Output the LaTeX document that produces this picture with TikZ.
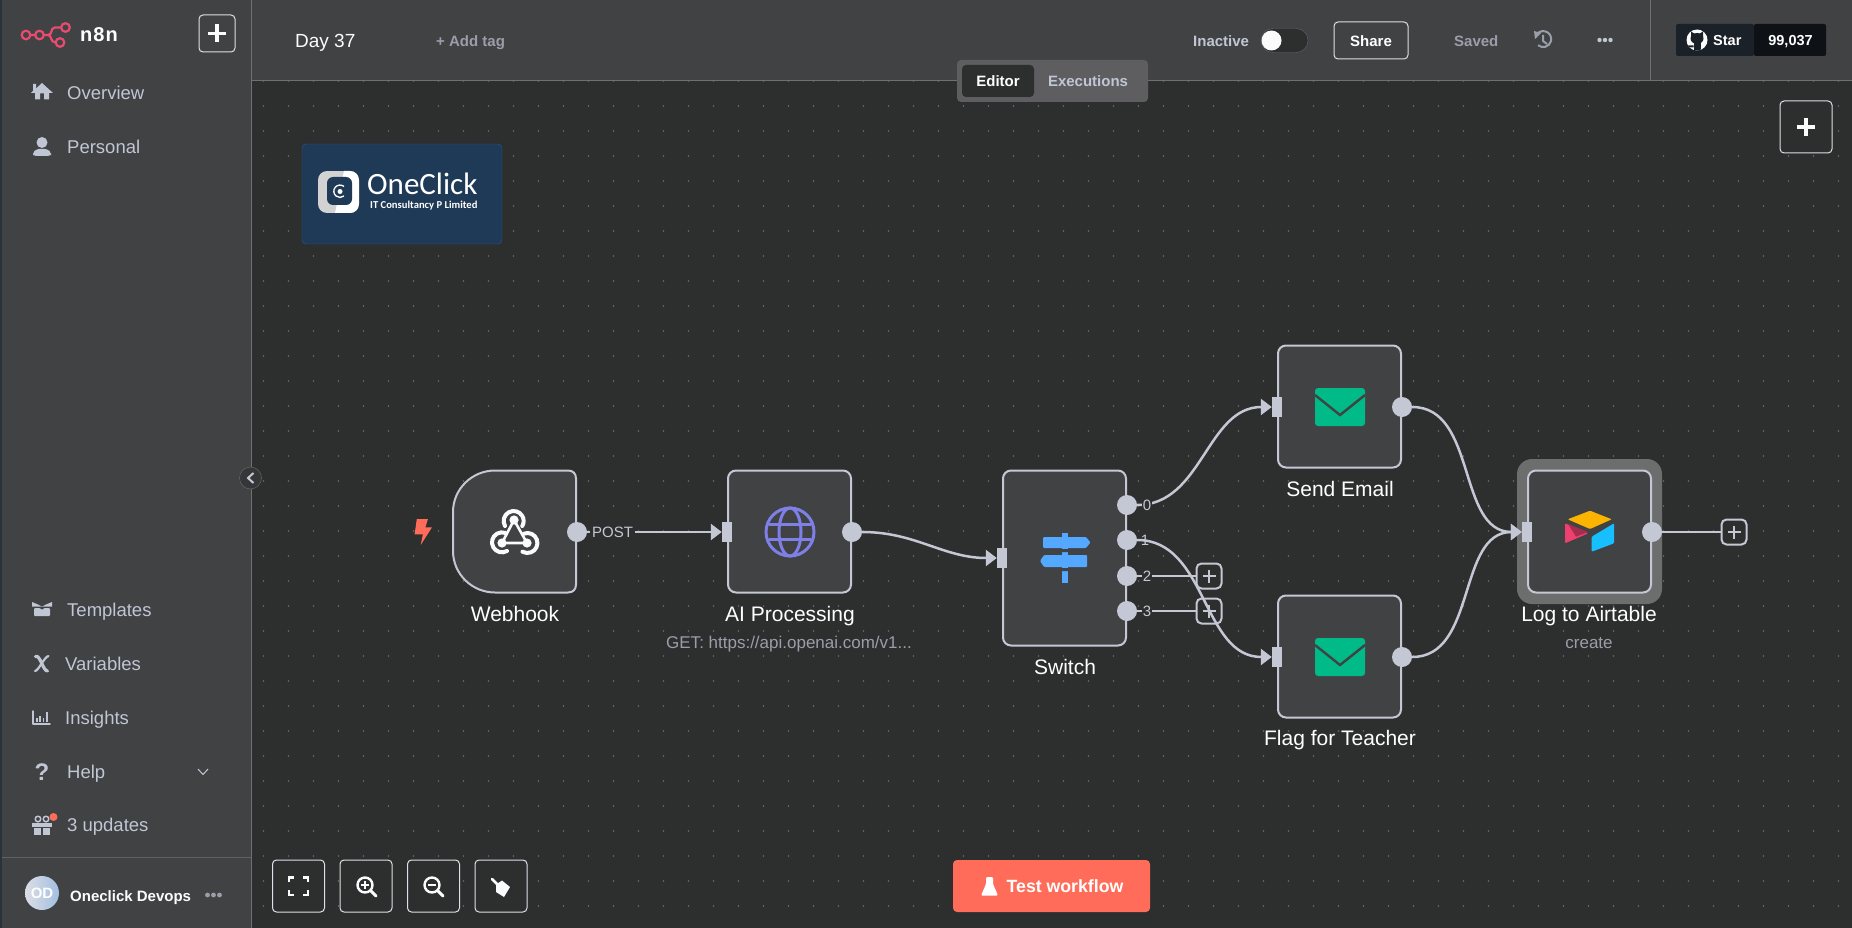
\documentclass[tikz,border=0pt]{standalone}
\usepackage{fontspec}
\setmainfont{Liberation Sans}
\newfontfamily\logofont{Carlito}
\usetikzlibrary{arrows.meta}
\newcommand{\fsz}[1]{\fontsize{#1}{#1}\selectfont}

\begin{document}
\begin{tikzpicture}[x=1pt,y=-1pt,
  flownode/.style={rectangle,draw=wire,fill=panel,line width=2,rounded corners=8,minimum width=123,minimum height=122,inner sep=0},
  outdot/.style={circle,fill=wire,minimum size=20,inner sep=0},
  inport/.style={rectangle,fill=wire,minimum width=10,minimum height=20,inner sep=0},
  plusbox/.style={rectangle,draw=wire,fill=canvas,line width=2,rounded corners=5,minimum size=25,inner sep=0},
  toolbtn/.style={rectangle,draw=btnline,fill=canvas,line width=1,rounded corners=4,inner sep=0},
  wireline/.style={draw=wire,line width=2.5,-{Triangle[length=11,width=16]}},
  stubline/.style={draw=wire,line width=2.5},
  navtext/.style={anchor=base west,inner sep=0,text=navclr,font=\fsz{18.5}},
  headtext/.style={anchor=base west,inner sep=0,font=\bfseries\fsz{15}},
  nodename/.style={anchor=base,inner sep=0,text=white,font=\fsz{21}},
  nodesub/.style={anchor=base,inner sep=0,text=subclr,font=\fsz{17}},
  porttext/.style={anchor=base,inner sep=0,text=wire,font=\fsz{15}},
  iconfill/.style={fill=navclr,draw=none},
  iconline/.style={draw=navclr,line width=2,line cap=round,line join=round}]
\definecolor{canvas}{HTML}{2D2E2E}
\definecolor{panel}{HTML}{414244}
\definecolor{wire}{HTML}{C4C8D4}
\definecolor{btnline}{HTML}{DDE0E8}
\definecolor{navclr}{HTML}{C0C6D4}
\definecolor{subclr}{HTML}{9A9EAA}
\definecolor{coral}{HTML}{FF6D5A}
\definecolor{mailgreen}{HTML}{00BB88}
\definecolor{signblue}{HTML}{55A8FF}
\definecolor{globeclr}{HTML}{7F7FE8}
\definecolor{navy}{HTML}{1F3A56}
\definecolor{pinklogo}{HTML}{EA4B71}
\definecolor{airyellow}{HTML}{FCB400}
\definecolor{airblue}{HTML}{18BFFF}
\definecolor{airred}{HTML}{EF4070}
\definecolor{hubdark}{HTML}{1B2129}
\definecolor{hubblack}{HTML}{0E1116}
\useasboundingbox (0,0) rectangle (1852,928);

% backgrounds
\fill[canvas] (0,0) rectangle (1852,928);
\foreach \gx in {0,...,63}
  \foreach \gy in {0,...,33}
    {\fill[gray!75!canvas] (263.5+25*\gx,81+25*\gy) circle (0.9);}
\fill[panel] (251,0) rectangle (1852,80);
\draw[gray!75!panel] (251,80) -- (1852,80);
\draw[gray!75!panel] (1650,0) -- (1650,80);
\fill[panel] (0,0) rectangle (251,928);
\fill[navy!40!canvas] (0,0) rectangle (2,928);
\draw[gray!75!panel] (251.5,0) -- (251.5,928);
\draw[gray!50!panel] (2,857) -- (251,857);

% sidebar top
\foreach \lx/\ly in {26/35,39.5/35,65.5/27.5,60/42.5}
  {\draw[pinklogo,line width=2.2] (\lx,\ly) circle (4.3);}
\draw[pinklogo,line width=2.2] (30.3,35) -- (35.2,35) (43.8,35) -- (48,35) .. controls (53,35) and (50,27.5) .. (55,27.5) -- (61.2,27.5)
  (48,35) .. controls (52,35) and (50,42.5) .. (55.7,42.5);
\node[anchor=base west,inner sep=0,text=white,font=\bfseries\fsz{20}] (logoname) at (80,42) {n\kern1pt 8\kern1pt n};
\node[toolbtn,minimum width=36,minimum height=37,fill=panel] (newbtn) at (217,33.5) {};

% sidebar items
\foreach \itm/\txt/\ix/\iy in {over/Overview/67/99.7,pers/Personal/67/153.2,temp/Templates/67/616.5,vars/Variables/65/670.3,
    insi/Insights/65/724,help/Help/67/778,upd/3 updates/67/831.5}
  {\node[navtext] (\itm) at (\ix,\iy) {\txt};}
\fill[iconfill] (42,83) -- (36,88.5) -- (36,84) -- (33,84) -- (33,91) -- (31,93) -- (35,93) -- (35,99.5) -- (40,99.5) -- (40,93.5) -- (44,93.5) -- (44,99.5) -- (49,99.5) -- (49,93) -- (53,93) -- cycle;
\fill[iconfill] (42,142.5) circle (5.5);
\fill[iconfill,rounded corners=3] (33,156) -- (33,153) -- (36,149) -- (48,149) -- (51,153) -- (51,156) -- cycle;
\fill[iconfill] (32,602) -- (38,604.5) -- (42,606.5) -- (46,604.5) -- (52,602) -- (52,606.5) -- (32,606.5) -- cycle;
\fill[iconfill,rounded corners=1] (34,608) -- (40,608) -- (42,610) -- (44,608) -- (50,608) -- (50,616) -- (34,616) -- cycle;
\draw[iconline,line width=3.2] (35.5,656.5) .. controls (40,654) and (43,671) .. (47.5,671);
\draw[iconline,line width=2.2] (35,671) .. controls (38.5,671) and (44,657) .. (48.5,656);
\draw[iconline,line width=1.5] (33,711) -- (33,724) -- (50,724);
\foreach \bx/\bt in {37/718,40/716,43.5/718,47/712}
  {\draw[iconline,line width=1.8,line cap=butt] (\bx,721.5) -- (\bx,\bt);}
\node[anchor=base,inner sep=0,text=navclr,font=\bfseries\fsz{24}] (helpmark) at (42,780) {?};
\draw[navclr,line width=1] (198,769) -- (203,774.5) -- (208,769);
\fill[iconfill] (32,823) rectangle (52,827);
\fill[iconfill] (34,828) rectangle (41,835);
\fill[iconfill] (43,828) rectangle (50,835);
\draw[iconline,line width=1.5] (38,819) circle (2.8) (46,819) circle (2.8);
\fill[coral] (53.5,817) circle (4);
\shade[left color=wire!60!white,right color=wire!70!signblue] (42,893) circle (17);
\node[anchor=base,inner sep=0,text=white,font=\bfseries\fsz{15}] (avatar) at (42,898) {OD};
\node[anchor=base west,inner sep=0,text=white!95!navclr,font=\bfseries\fsz{15}] (username) at (70,901) {Oneclick Devops};
\foreach \dx in {207.5,213.5,219.5}
  {\fill[subclr] (\dx,895) circle (2.4);}
\node[circle,draw=gray!70!panel,fill=canvas!60!panel,minimum size=22,inner sep=0] (collapse) at (250.5,478) {};
\draw[wire,line width=2] (253.5,473) -- (248,478) -- (253.5,483);

% header
\node[anchor=base west,inner sep=0,text=white!95!navclr,font=\fsz{19}] (title) at (295,47.7) {Day 37};
\node[headtext,text=subclr] (addtag) at (436,46.7) {+ Add tag};
\node[headtext,text=navclr] (inactive) at (1193,46.7) {Inactive};
\node[rectangle,draw=gray!60!panel,fill=canvas,rounded corners=12,minimum width=47,minimum height=24,inner sep=0] (toggle) at (1284.5,40.5) {};
\fill[white!93!navclr] (1271.5,40.5) circle (10);
\node[toolbtn,fill=panel,minimum width=74,minimum height=37] (sharebtn) at (1371,40.5) {};
\node[anchor=base,inner sep=0,text=white,font=\bfseries\fsz{15}] (share) at (1371,46.7) {Share};
\node[headtext,text=subclr] (saved) at (1454,46.7) {Saved};
\draw[subclr,line width=2] (1535.5,37) arc[start angle=195,end angle=490,radius=8];
\draw[subclr,line width=2] (1543,35) -- (1543,41) -- (1547,44);
\fill[subclr] (1534,31) -- (1541,33) -- (1535,39) -- cycle;
\foreach \dx in {1599.5,1605,1610.5}
  {\fill[navclr] (\dx,40) circle (2.2);}
\node[rectangle,fill=hubdark,rounded corners=2,minimum width=78,minimum height=32,inner sep=0] (starbox) at (1715,40) {};
\node[rectangle,fill=hubblack,rounded corners=2,minimum width=72,minimum height=32,inner sep=0] (countbox) at (1790,40) {};
\fill[white] (1697,40) circle (10.5);
\begin{scope}
  \clip (1697,40) circle (10.5);
  \fill[hubdark] (1697,38.5) ellipse (6.5 and 5.5);
  \fill[hubdark] (1691,31.5) -- (1695,34) -- (1691,37) -- cycle;
  \fill[hubdark] (1703,31.5) -- (1699,34) -- (1703,37) -- cycle;
  \fill[hubdark] (1693.5,42) rectangle (1700.5,52);
  \fill[hubdark] (1686,45.5) -- (1693.5,45.5) -- (1693.5,47.5) -- (1688,47.5) -- cycle;
\end{scope}
\node[anchor=base west,inner sep=0,text=white,font=\bfseries\fsz{14.5}] (star) at (1713,45.5) {Star};
\node[anchor=base,inner sep=0,text=white,font=\bfseries\fsz{14.5}] (stars) at (1790.5,45.5) {99,037};

% tabs
\node[rectangle,fill=panel!85!white,rounded corners=4,minimum width=191,minimum height=42,inner sep=0] (tabs) at (1052.5,81) {};
\node[rectangle,fill=canvas,rounded corners=4,minimum width=72,minimum height=32,inner sep=0] (editortab) at (998,81) {};
\node[anchor=base,inner sep=0,text=white,font=\bfseries\fsz{15}] (editor) at (998,86.5) {Editor};
\node[anchor=base,inner sep=0,text=navclr,font=\bfseries\fsz{15}] (execs) at (1088,86.5) {Executions};

% canvas buttons
\node[toolbtn,minimum width=52,minimum height=52] (addbtn) at (1806,127) {};
\foreach \px/\py in {217/33.5,1806/127}
  {\draw[white!95!wire,line width=3.2] (\px-9,\py) -- (\px+9,\py) (\px,\py-9) -- (\px,\py+9);}
\foreach \bname/\bx in {fitbtn/298.5,inbtn/366,outbtn/433.5,tidybtn/501}
  {\node[toolbtn,minimum width=52,minimum height=52] (\bname) at (\bx,886) {};}
\begin{scope}[white!92!wire,line width=2.4]
  \draw (289,882) -- (289,877.5) -- (294,877.5) (303,877.5) -- (308,877.5) -- (308,882)
        (289,890) -- (289,895) -- (294,895) (303,895) -- (308,895) -- (308,890);
  \foreach \mx in {365,432}
    {\draw (\mx,885) circle (7.5);
     \draw[line cap=round,line width=3] (\mx+6,891) -- (\mx+11,896);
     \draw[line width=2] (\mx-4,885) -- (\mx+4,885);}
  \draw[line width=2] (365,881) -- (365,889);
  \draw[line cap=round,line width=2.6] (492,879) -- (498,885);
\end{scope}
\fill[white!92!wire] (496,884.5) -- (502,880.5) -- (510,887) -- (504,897) -- (496,892) -- cycle;

\node[rectangle,fill=coral,rounded corners=4,minimum width=197,minimum height=52,inner sep=0] (testbtn) at (1051.5,886) {};
\node[anchor=base,inner sep=0,text=white,font=\bfseries\fsz{17.7}] (testlab) at (1065,892) {Test workflow};
\fill[white,rounded corners=1.2] (986,877) -- (993,877) -- (993,884) -- (998,895.5) -- (981,895.5) -- (986,884) -- cycle;

% company logo
\node[rectangle,draw=navy!70!signblue,fill=navy,rounded corners=4,minimum width=200,minimum height=100,inner sep=0] (logobox) at (402,194) {};
\begin{scope}
  \clip[rounded corners=9] (318,171) rectangle (359,213);
  \fill[gray!35!white] (318,171) rectangle (359,213);
  \fill[white] (344,171) -- (359,171) -- (359,213) -- (335,213) -- cycle;
\end{scope}
\fill[navy,rounded corners=6] (327,177) rectangle (352,205);
\draw[white,line width=1.3] (344,186.5) arc[start angle=-50,end angle=-310,radius=6.2];
\fill[white] (340,191.5) circle (2.5);
\node[anchor=base west,inner sep=0,text=white,font=\logofont\fsz{31}] (oneclick) at (367,195) {OneClick};
\node[anchor=base west,inner sep=0,text=white,font=\logofont\bfseries\fsz{10.6}] (oneclicksub) at (370,208) {IT Consultancy P Limited};

% workflow nodes
\node[inner sep=0,minimum width=123,minimum height=122] (webhook) at (514.5,531.5) {};
\draw[wire,fill=panel,line width=2] (569,470.5) -- (495,470.5) .. controls (472,470.5) and (453,489) .. (453,512) -- (453,551)
  .. controls (453,574) and (472,592.5) .. (495,592.5) -- (568,592.5) .. controls (573,592.5) and (576,589.5) .. (576,584.5)
  -- (576,478.5) .. controls (576,473.5) and (573,470.5) .. (568,470.5) -- cycle;
\node[flownode] (aireq) at (789.5,531.5) {};
\node[flownode,minimum height=175] (switch) at (1064.5,558) {};
\node[flownode] (sendmail) at (1339.5,406.5) {};
\node[flownode] (flagmail) at (1339.5,656.5) {};
\node[rectangle,fill=gray!45!canvas!85!white,rounded corners=15,minimum width=145,minimum height=145,inner sep=0] (selected) at (1589.5,531.5) {};
\node[flownode] (airtable) at (1589.5,531.5) {};

% ports
\foreach \pname/\px/\py in {hookout/577/532,aiout/852/532,swout0/1127/505,swout1/1127/540,swout2/1127/576,swout3/1127/611,
    sendout/1402/407,flagout/1402/657,airout/1652/532}
  {\node[outdot] (\pname) at (\px,\py) {};}
\foreach \pname/\px/\py in {aiin/727/532,swin/1002/558,sendin/1277/407,flagin/1277/657,airin/1527/532}
  {\node[inport] (\pname) at (\px,\py) {};}
\foreach \pname/\px/\py in {plus2/1209/576,plus3/1209/611,plusend/1734/532}
  {\node[plusbox] (\pname) at (\px,\py) {};}
\foreach \px/\py in {1209/576,1209/611,1734/532}
  {\draw[wire,line width=2.4] (\px-6.5,\py) -- (\px+6.5,\py) (\px,\py-6.5) -- (\px,\py+6.5);}

% connectors
\draw[wireline] (hookout) -- (aiin);
\draw[wireline] (aiout) to[out=0,in=180] (swin);
\draw[wireline] (swout0) to[out=0,in=180] (sendin);
\draw[stubline] (swout2) -- (plus2);
\draw[stubline] (swout3) -- (plus3);
\draw[wireline] (swout1) to[out=0,in=180] (flagin);
\draw[wireline] (sendout) to[out=0,in=180] (airin);
\draw[wireline] (flagout) to[out=0,in=180] (airin);
\draw[stubline] (airout) -- (plusend);

% connector labels
\node[porttext,fill=canvas,inner xsep=2,inner ysep=1] (postlab) at (612.5,537) {POST};
\node[porttext,fill=canvas,inner xsep=1] (lab0) at (1147,510.5) {0};
\node[porttext] (lab1) at (1145,545.5) {1};
\node[porttext,fill=canvas,inner xsep=1] (lab2) at (1147,581.5) {2};
\node[porttext,fill=canvas,inner xsep=1] (lab3) at (1147,616.5) {3};

% node names
\node[nodename] (hookname) at (515,621) {Webhook};
\node[nodename] (ainame) at (790,621) {AI Processing};
\node[nodesub] (aisub) at (789,648) {GET: https://api.openai.com/v1...};
\node[nodename] (swname) at (1065,674) {Switch};
\node[nodename] (sendname) at (1340,496) {Send Email};
\node[nodename] (flagname) at (1340,745.7) {Flag for Teacher};
\node[nodename] (airname) at (1589,621) {Log to Airtable};
\node[nodesub] (airsub) at (1589,648) {create};

% node icons
\fill[coral] (416.8,519) -- (427.9,519) -- (425.4,527.3) -- (432,527.3) -- (420.7,545) -- (422.9,534.3) -- (414.6,534.3) -- cycle;
\begin{scope}[white!92!wire,line width=4,line cap=round]
  \draw[line width=2.6] (514,520) -- (502,543) -- (527,543) -- cycle;
  \draw (505,526) arc[start angle=150,end angle=390,radius=10];
  \draw (507,551) arc[start angle=60,end angle=290,radius=10];
  \draw (524,533.6) arc[start angle=250,end angle=480,radius=10];
\end{scope}
\foreach \wx/\wy in {514/520,502/543,527/543}
  {\fill[white!92!wire] (\wx,\wy) circle (4.6);}
\begin{scope}[globeclr,line width=3]
  \draw (790,532) circle (24);
  \draw (790,532) ellipse (11 and 24);
  \draw (769,524.5) -- (811,524.5) (769,539.5) -- (811,539.5);
\end{scope}
\fill[signblue] (1062,533) rectangle (1068,583);
\fill[panel] (1060,549) rectangle (1070,552) (1060,568) rectangle (1070,571);
\fill[signblue,rounded corners=1] (1043,537) -- (1086,537) -- (1090.5,542.5) -- (1086,548) -- (1043,548) -- cycle;
\fill[signblue,rounded corners=1] (1087,555) -- (1044,555) -- (1040,561) -- (1044,567) -- (1087,567) -- cycle;
\foreach \my in {388,638}
  {\fill[mailgreen,rounded corners=3] (1315,\my) rectangle (1365,\my+38);
   \draw[panel,line width=2.4] (1315,\my+7) -- (1340,\my+27) -- (1365,\my+7);}
\fill[airyellow,rounded corners=1] (1567.7,519.3) -- (1590,510.7) -- (1611.7,519.3) -- (1590,529) -- cycle;
\fill[airblue,rounded corners=1] (1591.7,536.7) -- (1614,523.3) -- (1614,543.3) -- (1591.7,551.7) -- cycle;
\fill[airred,rounded corners=1] (1565,523.3) -- (1588.3,533.3) -- (1565,543.3) -- cycle;
\fill[airred!70!black] (1568,524) -- (1588,532) -- (1576,536.7) -- cycle;
\end{tikzpicture}
\end{document}
